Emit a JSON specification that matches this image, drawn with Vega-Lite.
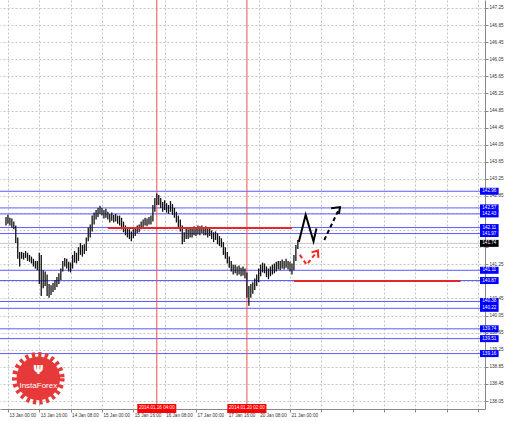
{
  "$schema": "https://vega.github.io/schema/vega-lite/v6.json",
  "width": 485,
  "height": 409,
  "autosize": {"type": "none"},
  "padding": {"left": 0, "top": 0, "right": 25, "bottom": 12},
  "background": "white",
  "config": {"view": {"stroke": null}, "font": "Liberation Sans", "axis": {"labelOverlap": false, "labelSeparation": 0}},
  "datasets": {
    "candles": [
      {"t":-1,"h":142.36,"l":142.16},{"t":0,"h":142.41,"l":142.20},{"t":1,"h":142.34,"l":142.16},{"t":2,"h":142.32,"l":142.11},
      {"t":3,"h":142.25,"l":142.07},{"t":4,"h":142.16,"l":141.75},{"t":5,"h":141.88,"l":141.38},{"t":6,"h":141.54,"l":141.20},
      {"t":7,"h":141.54,"l":141.38},{"t":8,"h":141.52,"l":141.36},{"t":9,"h":141.56,"l":141.40},{"t":10,"h":141.52,"l":141.33},
      {"t":11,"h":141.47,"l":141.31},{"t":12,"h":141.43,"l":141.27},{"t":13,"h":141.38,"l":141.20},{"t":14,"h":141.33,"l":141.15},
      {"t":15,"h":141.33,"l":141.11},{"t":16,"h":141.52,"l":140.79},{"t":17,"h":141.47,"l":140.51},{"t":18,"h":141.11,"l":140.69},
      {"t":19,"h":141.08,"l":140.74},{"t":20,"h":141.01,"l":140.51},{"t":21,"h":140.79,"l":140.47},{"t":22,"h":140.76,"l":140.53},
      {"t":23,"h":140.81,"l":140.60},{"t":24,"h":140.88,"l":140.65},{"t":25,"h":140.95,"l":140.72},{"t":26,"h":141.04,"l":140.79},
      {"t":27,"h":141.15,"l":140.88},{"t":28,"h":141.33,"l":141.08},{"t":29,"h":141.40,"l":141.20},{"t":30,"h":141.38,"l":141.15},
      {"t":31,"h":141.31,"l":141.08},{"t":32,"h":141.29,"l":141.06},{"t":33,"h":141.47,"l":141.15},{"t":34,"h":141.56,"l":141.29},
      {"t":35,"h":141.52,"l":141.27},{"t":36,"h":141.65,"l":141.33},{"t":37,"h":141.75,"l":141.47},{"t":38,"h":141.70,"l":141.43},
      {"t":39,"h":141.72,"l":141.49},{"t":40,"h":141.88,"l":141.56},{"t":41,"h":142.11,"l":141.79},{"t":42,"h":142.18,"l":141.88},
      {"t":43,"h":142.39,"l":142.02},{"t":44,"h":142.46,"l":142.18},{"t":45,"h":142.52,"l":142.30},{"t":46,"h":142.57,"l":142.36},
      {"t":47,"h":142.62,"l":142.43},{"t":48,"h":142.57,"l":142.39},{"t":49,"h":142.52,"l":142.32},{"t":50,"h":142.55,"l":142.34},
      {"t":51,"h":142.48,"l":142.30},{"t":52,"h":142.43,"l":142.23},{"t":53,"h":142.46,"l":142.27},{"t":54,"h":142.41,"l":142.23},
      {"t":55,"h":142.43,"l":142.25},{"t":56,"h":142.39,"l":142.20},{"t":57,"h":142.39,"l":142.16},{"t":58,"h":142.34,"l":142.07},
      {"t":59,"h":142.25,"l":142.00},{"t":60,"h":142.16,"l":141.93},{"t":61,"h":142.09,"l":141.88},{"t":62,"h":142.07,"l":141.84},
      {"t":63,"h":142.02,"l":141.79},{"t":64,"h":142.07,"l":141.86},{"t":65,"h":142.11,"l":141.91},{"t":66,"h":142.16,"l":141.98},
      {"t":67,"h":142.18,"l":142.00},{"t":68,"h":142.25,"l":142.07},{"t":69,"h":142.30,"l":142.11},{"t":70,"h":142.34,"l":142.16},
      {"t":71,"h":142.32,"l":142.14},{"t":72,"h":142.36,"l":142.18},{"t":73,"h":142.39,"l":142.18},{"t":74,"h":142.64,"l":142.25},
      {"t":75,"h":142.80,"l":142.48},{"t":76,"h":142.91,"l":142.64},{"t":77,"h":142.87,"l":142.64},{"t":78,"h":142.80,"l":142.57},
      {"t":79,"h":142.71,"l":142.48},{"t":80,"h":142.75,"l":142.52},{"t":81,"h":142.68,"l":142.46},{"t":82,"h":142.64,"l":142.43},
      {"t":83,"h":142.73,"l":142.48},{"t":84,"h":142.66,"l":142.41},{"t":85,"h":142.57,"l":142.34},{"t":86,"h":142.48,"l":142.23},
      {"t":87,"h":142.39,"l":142.11},{"t":88,"h":142.30,"l":142.02},{"t":89,"h":142.16,"l":141.72},{"t":90,"h":142.00,"l":141.77},
      {"t":91,"h":142.09,"l":141.84},{"t":92,"h":142.07,"l":141.84},{"t":93,"h":142.11,"l":141.88},{"t":94,"h":142.09,"l":141.88},
      {"t":95,"h":142.14,"l":141.93},{"t":96,"h":142.11,"l":141.91},{"t":97,"h":142.16,"l":141.95},{"t":98,"h":142.14,"l":141.93},
      {"t":99,"h":142.16,"l":141.98},{"t":100,"h":142.11,"l":141.93},{"t":101,"h":142.14,"l":141.93},{"t":102,"h":142.09,"l":141.88},
      {"t":103,"h":142.11,"l":141.91},{"t":104,"h":142.04,"l":141.84},{"t":105,"h":142.00,"l":141.77},{"t":106,"h":142.02,"l":141.82},
      {"t":107,"h":141.98,"l":141.72},{"t":108,"h":141.91,"l":141.68},{"t":109,"h":141.86,"l":141.65},{"t":110,"h":141.77,"l":141.47},
      {"t":111,"h":141.65,"l":141.38},{"t":112,"h":141.54,"l":141.27},{"t":113,"h":141.43,"l":141.17},{"t":114,"h":141.33,"l":141.08},
      {"t":115,"h":141.24,"l":141.01},{"t":116,"h":141.24,"l":141.04},{"t":117,"h":141.20,"l":140.99},{"t":118,"h":141.22,"l":141.01},
      {"t":119,"h":141.17,"l":140.97},{"t":120,"h":141.20,"l":140.99},{"t":121,"h":141.15,"l":140.92},{"t":122,"h":141.06,"l":140.47},
      {"t":123,"h":140.74,"l":140.28},{"t":124,"h":140.79,"l":140.47},{"t":125,"h":140.83,"l":140.56},{"t":126,"h":140.92,"l":140.65},
      {"t":127,"h":141.01,"l":140.74},{"t":128,"h":141.15,"l":140.83},{"t":129,"h":141.24,"l":140.97},{"t":130,"h":141.29,"l":141.06},
      {"t":131,"h":141.27,"l":141.04},{"t":132,"h":141.20,"l":140.95},{"t":133,"h":141.15,"l":140.90},{"t":134,"h":141.20,"l":140.97},
      {"t":135,"h":141.24,"l":141.01},{"t":136,"h":141.27,"l":141.04},{"t":137,"h":141.31,"l":141.08},{"t":138,"h":141.33,"l":141.13},
      {"t":139,"h":141.33,"l":141.11},{"t":140,"h":141.36,"l":141.15},{"t":141,"h":141.33,"l":141.13},{"t":142,"h":141.38,"l":141.17},
      {"t":143,"h":141.33,"l":141.13},{"t":144,"h":141.31,"l":141.08},{"t":145,"h":141.27,"l":141.01},{"t":146,"h":141.47,"l":141.11},
      {"t":147,"h":141.70,"l":141.33},{"t":148,"h":141.82,"l":141.61}
    ],
    "levels": [
      {"p":142.96},{"p":142.57},{"p":142.43},{"p":142.11},{"p":141.97},{"p":141.11},
      {"p":140.87},{"p":140.38},{"p":140.22},{"p":139.74},{"p":139.51},{"p":139.16}
    ],
    "current": [{"p":141.74}],
    "vlines": [{"t":76,"lab":"2014.01.16 04:00"},{"t":122,"lab":"2014.01.20 02:00"}],
    "hsegs": [{"t":51,"t2":145,"p":142.10},{"t":146,"t2":231,"p":140.86}],
    "blackSolid": [
      {"g":"a","i":0,"t":148.5,"p":141.77},{"g":"a","i":1,"t":152,"p":142.41},{"g":"a","i":2,"t":156,"p":141.79},{"g":"a","i":3,"t":157.5,"p":142.09},
      {"g":"c","i":0,"t":165,"p":142.56},{"g":"c","i":1,"t":169.5,"p":142.59},{"g":"c","i":2,"t":169,"p":142.43}
    ],
    "blackDash": [{"g":"b","i":0,"t":161.5,"p":141.82},{"g":"b","i":1,"t":169.5,"p":142.59}],
    "redDash": [{"g":"d","i":0,"t":149,"p":141.47},{"g":"d","i":1,"t":152.5,"p":141.24},{"g":"d","i":2,"t":158,"p":141.56}],
    "redHead": [{"g":"e","i":0,"t":155,"p":141.53},{"g":"e","i":1,"t":158.25,"p":141.57},{"g":"e","i":2,"t":158.5,"p":141.40}]
  },
  "encoding": {
    "x": {
      "type": "quantitative",
      "scale": {"domain": [-1.5, 241], "nice": false, "zero": false},
      "axis": {
        "orient": "bottom", "title": null,
        "values": [0,16,32,48,64,80,96,112,128,144,160,176,192,208,224,240],
        "grid": true, "gridColor": "#c4c4c4", "gridDash": [2,2], "gridWidth": 1,
        "domainColor": "#888888", "tickColor": "#888888", "tickSize": 3,
        "labelAlign": "left", "labelBaseline": "top", "labelPadding": 0, "labelOffset": 1,
        "labelFontSize": 4.6, "labelColor": "#333333",
        "labelOverlap": false, "labelFlush": false, "labelBound": false,
        "labelExpr": "datum.value==0?'13 Jan 00:00':datum.value==16?'13 Jan 16:00':datum.value==32?'14 Jan 08:00':datum.value==48?'15 Jan 00:00':datum.value==64?'15 Jan 16:00':datum.value==80?'16 Jan 08:00':datum.value==96?'17 Jan 00:00':datum.value==112?'17 Jan 16:00':datum.value==128?'20 Jan 08:00':datum.value==144?'21 Jan 00:00':''"
      }
    },
    "y": {
      "type": "quantitative",
      "scale": {"domain": [137.98, 147.32], "nice": false, "zero": false},
      "axis": {
        "orient": "right", "title": null,
        "values": [138.05,138.45,138.85,139.25,139.65,140.05,140.45,140.85,141.25,141.65,142.05,142.45,142.85,143.25,143.65,144.05,144.45,144.85,145.25,145.65,146.05,146.45,146.85,147.25],
        "labelExpr": "(abs(datum.value-142.05)<0.01 || abs(datum.value-140.85)<0.01 || abs(datum.value-141.65)<0.01 || abs(datum.value-142.45)<0.01) ? '' : format(datum.value, '.2f')",
        "grid": true, "gridColor": "#c4c4c4", "gridDash": [2,2], "gridWidth": 1,
        "domainColor": "#888888", "tickColor": "#888888", "tickSize": 3,
        "labelPadding": 1, "labelFontSize": 4.6, "labelColor": "#333333",
        "labelOverlap": false, "labelFlush": false, "labelBound": false
      }
    }
  },
  "layer": [
    {
      "data": {"name": "levels"},
      "mark": {"type": "rule", "color": "#5b5bff", "strokeWidth": 1},
      "encoding": {"y": {"field": "p"}}
    },
    {
      "data": {"name": "current"},
      "mark": {"type": "rule", "color": "#c8c8c8", "strokeWidth": 1},
      "encoding": {"y": {"field": "p"}}
    },
    {
      "data": {"name": "vlines"},
      "mark": {"type": "rule", "color": "#f05050", "strokeWidth": 1},
      "encoding": {"x": {"field": "t"}}
    },
    {
      "data": {"name": "candles"},
      "mark": {"type": "rule", "color": "#111111", "strokeWidth": 1.3},
      "encoding": {
        "x": {"field": "t"},
        "y": {"field": "h"},
        "y2": {"field": "l"}
      }
    },
    {
      "data": {"name": "hsegs"},
      "mark": {"type": "rule", "color": "#e3262b", "strokeWidth": 2},
      "encoding": {
        "x": {"field": "t"},
        "x2": {"field": "t2"},
        "y": {"field": "p"}
      }
    },
    {
      "data": {"name": "blackSolid"},
      "mark": {"type": "line", "color": "#000000", "strokeWidth": 2},
      "encoding": {
        "x": {"field": "t"},
        "y": {"field": "p"},
        "detail": {"field": "g"},
        "order": {"field": "i"}
      }
    },
    {
      "data": {"name": "blackDash"},
      "mark": {"type": "line", "color": "#000000", "strokeWidth": 2, "strokeDash": [4, 3]},
      "encoding": {
        "x": {"field": "t"},
        "y": {"field": "p"},
        "order": {"field": "i"}
      }
    },
    {
      "data": {"name": "redDash"},
      "mark": {"type": "line", "color": "#ff2020", "strokeWidth": 2, "strokeDash": [4, 3]},
      "encoding": {
        "x": {"field": "t"},
        "y": {"field": "p"},
        "order": {"field": "i"}
      }
    },
    {
      "data": {"name": "redHead"},
      "mark": {"type": "line", "color": "#ff2020", "strokeWidth": 2},
      "encoding": {
        "x": {"field": "t"},
        "y": {"field": "p"},
        "order": {"field": "i"}
      }
    },
    {
      "data": {"name": "levels"},
      "mark": {"type": "bar", "orient": "horizontal", "color": "#0000ff", "size": 7},
      "encoding": {
        "x": {"datum": 241},
        "x2": {"datum": 250.5},
        "y": {"field": "p"}
      }
    },
    {
      "data": {"name": "levels"},
      "mark": {"type": "text", "color": "white", "fontSize": 4.6, "align": "center", "baseline": "middle"},
      "encoding": {
        "x": {"datum": 245.75},
        "y": {"field": "p"},
        "text": {"field": "p", "type": "quantitative", "format": ".2f"}
      }
    },
    {
      "data": {"name": "current"},
      "mark": {"type": "bar", "orient": "horizontal", "color": "#000000", "size": 7},
      "encoding": {
        "x": {"datum": 241},
        "x2": {"datum": 250.5},
        "y": {"field": "p"}
      }
    },
    {
      "data": {"name": "current"},
      "mark": {"type": "text", "color": "white", "fontSize": 4.6, "align": "center", "baseline": "middle"},
      "encoding": {
        "x": {"datum": 245.75},
        "y": {"field": "p"},
        "text": {"field": "p", "type": "quantitative", "format": ".2f"}
      }
    },
    {
      "data": {"name": "vlines"},
      "mark": {"type": "bar", "orient": "vertical", "color": "#ff0000", "size": 39},
      "encoding": {
        "x": {"field": "t"},
        "y": {"datum": 137.98},
        "y2": {"datum": 137.77}
      }
    },
    {
      "data": {"name": "vlines"},
      "mark": {"type": "text", "color": "white", "fontSize": 4.6, "align": "center", "baseline": "middle"},
      "encoding": {
        "x": {"field": "t"},
        "y": {"datum": 137.875},
        "text": {"field": "lab"}
      }
    },
    {
      "data": {"values": [{"name": "InstaForex"}]},
      "mark": {"type": "point", "shape": "circle", "filled": true, "fill": "#e63a3a", "stroke": "#e63a3a", "strokeWidth": 9, "strokeDash": [3, 3], "size": 1900, "opacity": 1},
      "encoding": {
        "x": {"datum": 15.5},
        "y": {"datum": 138.58}
      }
    },
    {
      "data": {"values": [{"name": "InstaForex"}]},
      "mark": {"type": "text", "color": "white", "fontSize": 8, "align": "center", "baseline": "middle"},
      "encoding": {
        "x": {"datum": 15.5},
        "y": {"datum": 138.40},
        "text": {"field": "name"}
      }
    },
    {
      "data": {"values": [{"icon": "Ψ"}]},
      "mark": {"type": "text", "color": "white", "fontSize": 12, "fontWeight": "bold", "font": "DejaVu Sans", "align": "center", "baseline": "middle"},
      "encoding": {
        "x": {"datum": 15.5},
        "y": {"datum": 138.77},
        "text": {"field": "icon"}
      }
    }
  ]
}
